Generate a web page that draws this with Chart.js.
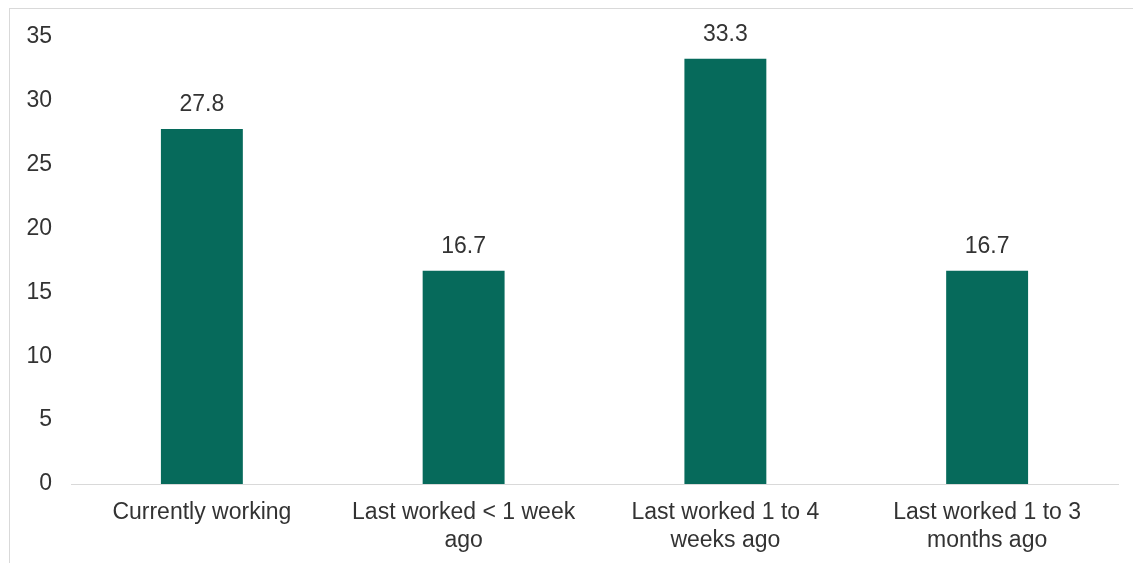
<!DOCTYPE html>
<html>
<head>
<meta charset="utf-8">
<script src="https://cdn.jsdelivr.net/npm/chart.js@4/dist/chart.umd.min.js"></script>
<style>
  html, body { margin: 0; padding: 0; background: #fff; }
  body { width: 1133px; height: 563px; position: relative; overflow: hidden; }
  #frame { position: absolute; left: 9px; top: 8px; width: 1140px; height: 600px; border: 1px solid #d9d9d9; }
  #wrap { position: absolute; left: 0; top: 0; width: 1133px; height: 563px; }
</style>
</head>
<body>
<div id="frame"></div>
<div id="wrap"><canvas id="workChart"></canvas></div>
<script>
// Work status categories and percentages
const categories = [
    'Currently working',
    ['Last worked < 1 week', 'ago'],
    ['Last worked 1 to 4', 'weeks ago'],
    ['Last worked 1 to 3', 'months ago'],
];
const percentages = [27.8, 16.7, 33.3, 16.7];
const yTicks = [0, 5, 10, 15, 20, 25, 30, 35];

const textColor = '#333333';
const fontFamily = '"Liberation Sans", Arial, sans-serif';

// value labels above each bar
const barValueLabels = {
    id: 'barValueLabels',
    afterDatasetsDraw(chart) {
        const ctx = chart.ctx;
        ctx.save();
        ctx.font = '23px ' + fontFamily;
        ctx.fillStyle = textColor;
        ctx.textAlign = 'center';
        ctx.textBaseline = 'alphabetic';
        chart.getDatasetMeta(0).data.forEach(function (bar, i) {
            ctx.fillText(percentages[i].toFixed(1), bar.x, bar.y - 18);
        });
        ctx.restore();
    },
};

document.addEventListener('DOMContentLoaded', function () {
    const ctx = document.getElementById('workChart').getContext('2d');
    new Chart(ctx, {
        type: 'bar',
        data: {
            labels: categories,
            datasets: [
                {
                    data: percentages,
                    backgroundColor: '#066a5b',
                    barPercentage: 0.313,
                    categoryPercentage: 1,
                },
            ],
        },
        options: {
            responsive: true,
            maintainAspectRatio: false,
            animation: false,
            layout: { padding: { top: 37, right: 15, bottom: 0, left: 0 } },
            plugins: {
                legend: { display: false },
                tooltip: { enabled: false },
            },
            scales: {
                x: {
                    grid: { display: false, drawTicks: false },
                    border: { display: true, color: '#d9d9d9', width: 1 },
                    ticks: {
                        color: textColor,
                        font: { family: fontFamily, size: 23, lineHeight: 1.2 },
                        padding: 15,
                        maxRotation: 0,
                        autoSkip: false,
                    },
                    afterFit(scale) { scale.height = 79; },
                },
                y: {
                    min: 0,
                    max: 35,
                    afterBuildTicks(scale) {
                        scale.ticks = yTicks.map(function (v) { return { value: v }; });
                    },
                    grid: { display: false, drawTicks: false },
                    border: { display: false },
                    ticks: {
                        color: textColor,
                        font: { family: fontFamily, size: 23 },
                        padding: 19,
                    },
                    afterFit(scale) { scale.width = 71; },
                },
            },
        },
        plugins: [barValueLabels],
    });
});
</script>
</body>
</html>
